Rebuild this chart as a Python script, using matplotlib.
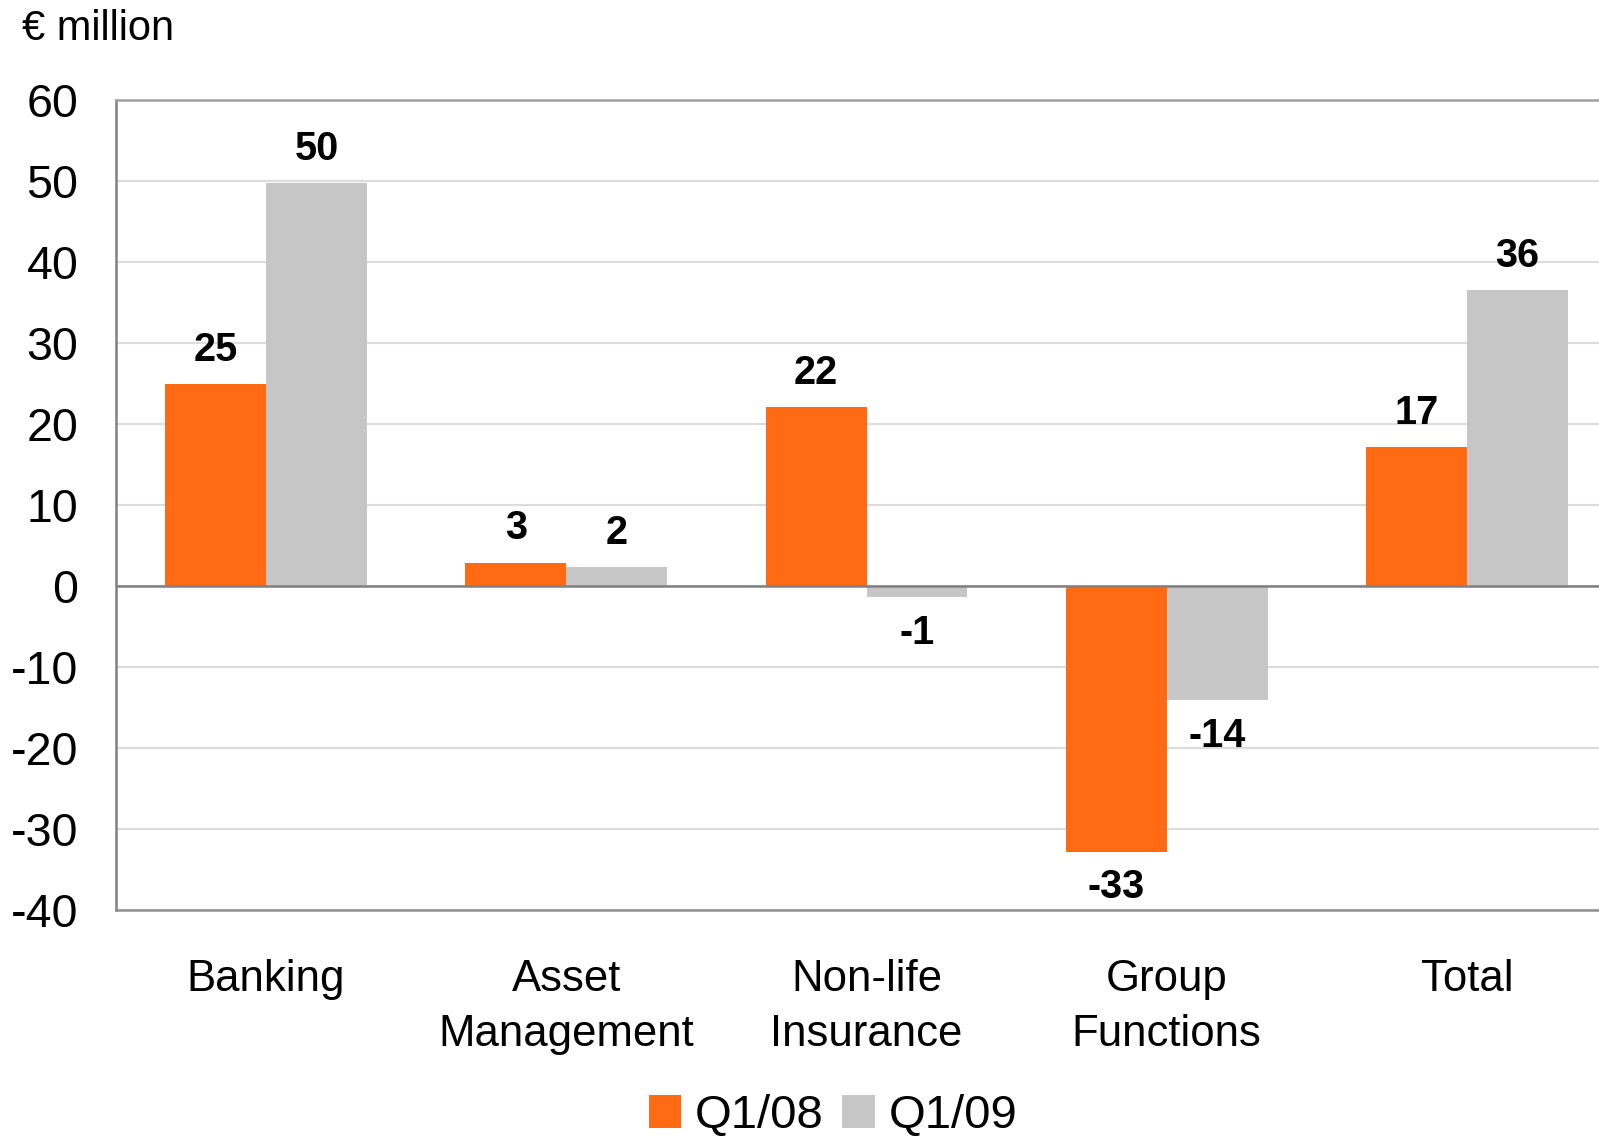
import matplotlib
matplotlib.use("Agg")
import matplotlib.pyplot as plt
from matplotlib.patches import Patch
import numpy as np

categories = ["Banking", "Asset\nManagement", "Non-life\nInsurance", "Group\nFunctions", "Total"]
q108 = [24.9, 2.9, 22.1, -32.8, 17.1]
q109 = [49.7, 2.3, -1.4, -14.1, 36.5]
q108_labels = ["25", "3", "22", "-33", "17"]
q109_labels = ["50", "2", "-1", "-14", "36"]
series_names = ["Q1/08", "Q1/09"]
yticks = [60, 50, 40, 30, 20, 10, 0, -10, -20, -30, -40]

ORANGE = "#FF6A13"
GREY = "#C6C6C6"

plt.rcParams['font.family'] = ['Liberation Sans', 'DejaVu Sans']

fig = plt.figure(figsize=(15.99, 11.36), dpi=100)
W, H = 1599, 1136
left, right = 116, 1617
top, bottom = 100, 910
ax = fig.add_axes([left / W, 1 - bottom / H, (right - left) / W, (bottom - top) / H])

x = np.arange(len(categories))
bw = 0.336
b1 = ax.bar(x - bw / 2, q108, width=bw, color=ORANGE, zorder=3)
b2 = ax.bar(x + bw / 2, q109, width=bw, color=GREY, zorder=3)

ax.set_xlim(-0.5, len(categories) - 0.5)
ax.set_ylim(-40, 60)
ax.set_yticks(yticks)
ax.set_yticklabels([str(t) for t in yticks], fontsize=33.5)
ax.tick_params(axis='y', length=0, pad=27)
ax.set_xticks(x)
ax.set_xticklabels(categories, fontsize=31.5, linespacing=1.45)
ax.tick_params(axis='x', length=0, pad=35)
for lab in ax.get_yticklabels():
    lab.set_horizontalalignment('right')

ax.grid(axis='y', color="#DCDCDC", linewidth=1.5, zorder=0)
ax.axhline(0, color="#808080", linewidth=1.8, zorder=4)
ax.spines['right'].set_visible(False)
ax.spines['left'].set_color("#808080")
ax.spines['left'].set_linewidth(1.8)
ax.spines['bottom'].set_color("#909090")
ax.spines['bottom'].set_linewidth(1.8)
ax.spines['top'].set_color("#A0A0A0")
ax.spines['top'].set_linewidth(1.8)

def label_bars(bars, vals, labels):
    for b, v, t in zip(bars, vals, labels):
        cx = b.get_x() + b.get_width() / 2
        off = 24.5 if v >= 0 else -25.5
        ax.annotate(t, (cx, v), xytext=(0, off), textcoords='offset points',
                    ha='center', va='center', fontsize=28.5, fontweight='bold', zorder=5)

label_bars(b1, q108, q108_labels)
label_bars(b2, q109, q109_labels)

fig.text(22 / W, 1 - 29 / H, "€ million", fontsize=30, va='center', ha='left')

handles = [Patch(facecolor=ORANGE, edgecolor='none'), Patch(facecolor=GREY, edgecolor='none')]
fig.legend(handles, series_names, loc='center', bbox_to_anchor=(833 / W, 1 - 1116 / H),
           ncol=2, frameon=False, fontsize=34, handlelength=0.68, handleheight=0.68,
           handletextpad=0.3, columnspacing=0.4, borderaxespad=0, borderpad=0)

fig.savefig("out.png", dpi=100)
